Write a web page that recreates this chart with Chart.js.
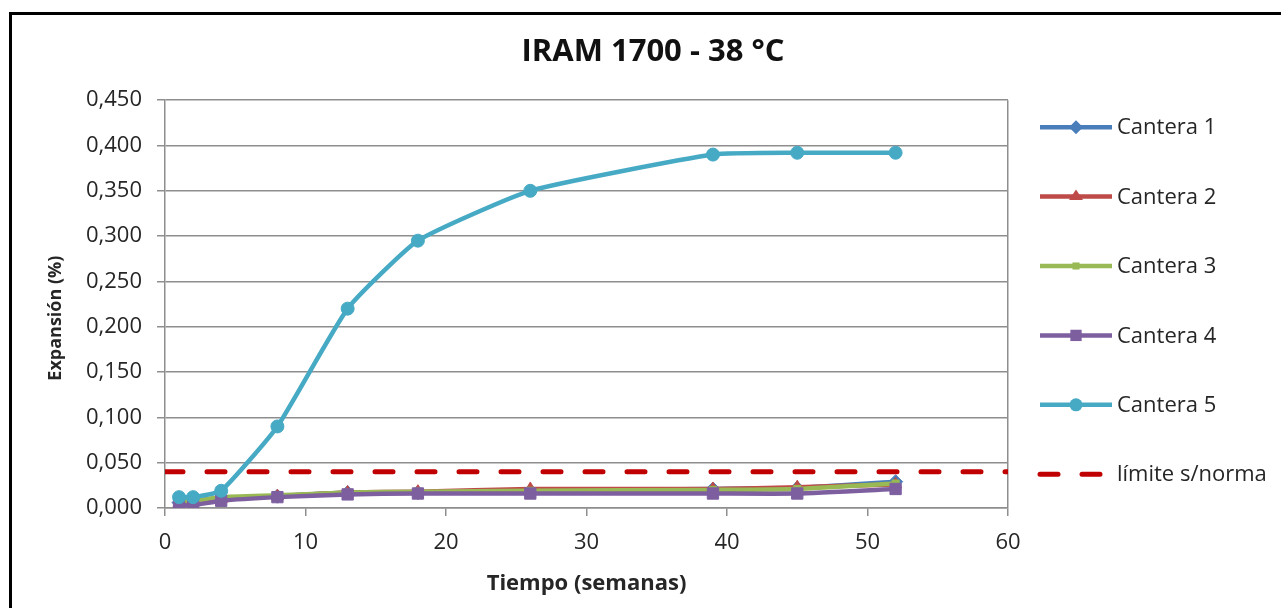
<!DOCTYPE html>
<html>
<head>
<meta charset="utf-8">
<script src="https://cdn.jsdelivr.net/npm/chart.js@4/dist/chart.umd.min.js"></script>
<style>
html, body { margin: 0; padding: 0; background: #fff; overflow: hidden; }
#wrap { position: relative; width: 1281px; height: 608px; }
#frame { position: absolute; left: 9px; top: 12px; width: 1300px; height: 700px; border: 3px solid #000; box-sizing: border-box; pointer-events: none; }
</style>
</head>
<body>
<div id="wrap"><canvas id="chart"></canvas><div id="frame"></div></div>
<script>
// semanas de ensayo
const weeks = [1, 2, 4, 8, 13, 18, 26, 39, 45, 52];

// expansion (%) por cantera
const cantera1 = [0.006, 0.007, 0.011, 0.013, 0.017, 0.017, 0.019, 0.021, 0.022, 0.029];
const cantera2 = [0.005, 0.006, 0.010, 0.013, 0.017, 0.018, 0.021, 0.021, 0.023, 0.026];
const cantera3 = [0.007, 0.008, 0.012, 0.014, 0.017, 0.018, 0.019, 0.020, 0.021, 0.027];
const cantera4 = [0.003, 0.003, 0.008, 0.012, 0.015, 0.016, 0.016, 0.016, 0.016, 0.021];
const cantera5 = [0.012, 0.012, 0.019, 0.090, 0.220, 0.295, 0.350, 0.390, 0.392, 0.392];
const limite = 0.040;

const names = ['Cantera 1', 'Cantera 2', 'Cantera 3', 'Cantera 4', 'Cantera 5'];
const series = [cantera1, cantera2, cantera3, cantera4, cantera5];
const colors = ['#4A7EBB', '#BE4B48', '#98B954', '#7D5FA0', '#46AAC5'];
const markers = ['rectRot', 'triangle', 'rect', 'rect', 'circle'];
const markerSizes = [7, 7, 5, 8, 6.5];

const xMin = 0, xMax = 60, xStep = 10;
const yMin = 0, yMax = 0.45, yStep = 0.05;

const gridGray = '#8e8e8e';
const textColor = '#262626';
const fontFamily = '"Open Sans", "Noto Sans", sans-serif';

const datasets = series.map((vals, i) => ({
    label: names[i],
    data: weeks.map((w, j) => ({ x: w, y: vals[j] })),
    borderColor: colors[i],
    backgroundColor: colors[i],
    pointBackgroundColor: colors[i],
    pointBorderColor: colors[i],
    pointBorderWidth: 1,
    pointStyle: markers[i],
    pointRadius: markerSizes[i],
    borderWidth: 4.5,
    tension: 0.15,
    order: 5 - i + 1
}));

datasets.push({
    label: 'límite s/norma',
    data: [{ x: xMin, y: limite }, { x: xMax, y: limite }],
    borderColor: '#C00000',
    backgroundColor: '#C00000',
    borderWidth: 5,
    borderDash: [18, 24],
    borderCapStyle: 'round',
    pointRadius: 0,
    order: 0
});

function drawMarker(ctx, style, r, x, y, color) {
    ctx.fillStyle = color;
    ctx.beginPath();
    if (style === 'circle') {
        ctx.arc(x, y, r, 0, Math.PI * 2);
    } else if (style === 'rectRot') {
        ctx.moveTo(x, y - r); ctx.lineTo(x + r, y); ctx.lineTo(x, y + r); ctx.lineTo(x - r, y);
        ctx.closePath();
    } else if (style === 'triangle') {
        ctx.moveTo(x, y - r); ctx.lineTo(x + r, y + r / 2); ctx.lineTo(x - r, y + r / 2);
        ctx.closePath();
    } else {
        const s = r * Math.SQRT1_2;
        ctx.rect(x - s, y - s, 2 * s, 2 * s);
    }
    ctx.fill();
}

// leyenda al costado: linea + marcador + texto, como en Excel
const sideLegend = {
    id: 'sideLegend',
    afterDraw(chart) {
        const ctx = chart.ctx;
        const area = chart.chartArea;
        const x0 = area.right + 32;
        const x1 = x0 + 72;
        chart.data.datasets.forEach((ds, i) => {
            const y = area.top + 27 + i * 69.4;
            ctx.save();
            ctx.strokeStyle = ds.borderColor;
            ctx.lineWidth = ds.borderWidth;
            ctx.lineCap = ds.borderCapStyle || 'butt';
            ctx.setLineDash(ds.borderDash || []);
            ctx.beginPath();
            ctx.moveTo(x0, y);
            ctx.lineTo(x1, y);
            ctx.stroke();
            ctx.setLineDash([]);
            if (ds.pointRadius) drawMarker(ctx, ds.pointStyle, ds.pointRadius, (x0 + x1) / 2, y, ds.pointBackgroundColor);
            ctx.fillStyle = textColor;
            ctx.font = '22px ' + fontFamily;
            ctx.textBaseline = 'middle';
            ctx.textAlign = 'left';
            ctx.fillText(ds.label, x1 + 5, y + 1);
            ctx.restore();
        });
    }
};

const chart = new Chart(document.getElementById('chart'), {
    type: 'line',
    data: { datasets: datasets },
    plugins: [sideLegend],
    options: {
        responsive: true,
        maintainAspectRatio: false,
        animation: false,
        layout: { padding: { left: 25, right: 0, top: 0, bottom: 0 } },
        plugins: {
            legend: { display: false },
            tooltip: { enabled: false },
            title: {
                display: true,
                text: 'IRAM 1700 - 38 °C',
                color: '#111',
                font: { family: fontFamily, size: 31, weight: 'bold' },
                padding: { top: 34, bottom: 29 }
            }
        },
        scales: {
            x: {
                type: 'linear',
                min: xMin,
                max: xMax,
                ticks: { stepSize: xStep, color: textColor, font: { family: fontFamily, size: 22 }, padding: 14 },
                grid: {
                    color: ctx => ctx.tick && ctx.tick.value === xMax ? gridGray : 'transparent',
                    tickColor: gridGray,
                    tickLength: 8,
                    lineWidth: 1.5
                },
                border: { color: gridGray, width: 1.5 },
                title: {
                    display: true,
                    text: 'Tiempo (semanas)',
                    color: textColor,
                    font: { family: fontFamily, size: 22, weight: 'bold' },
                    padding: { top: 0, bottom: 11 }
                },
                afterFit: s => { s.height = 100; }
            },
            y: {
                min: yMin,
                max: yMax,
                ticks: {
                    stepSize: yStep,
                    color: textColor,
                    font: { family: fontFamily, size: 22 },
                    padding: 15,
                    callback: v => v.toFixed(3).replace('.', ',')
                },
                grid: { color: gridGray, tickColor: gridGray, tickLength: 8, lineWidth: 1.5 },
                border: { color: gridGray, width: 1.5 },
                title: {
                    display: true,
                    text: 'Expansión (%)      ',
                    color: textColor,
                    font: { family: fontFamily, size: 18, weight: 'bold' },
                    padding: { top: 20, bottom: 0 }
                },
                afterFit: s => { s.width = 140; }
            },
            y2: {
                position: 'right',
                display: true,
                ticks: { display: false },
                grid: { display: false },
                border: { display: false },
                afterFit: s => { s.width = 273; }
            }
        }
    }
});
</script>
</body>
</html>
